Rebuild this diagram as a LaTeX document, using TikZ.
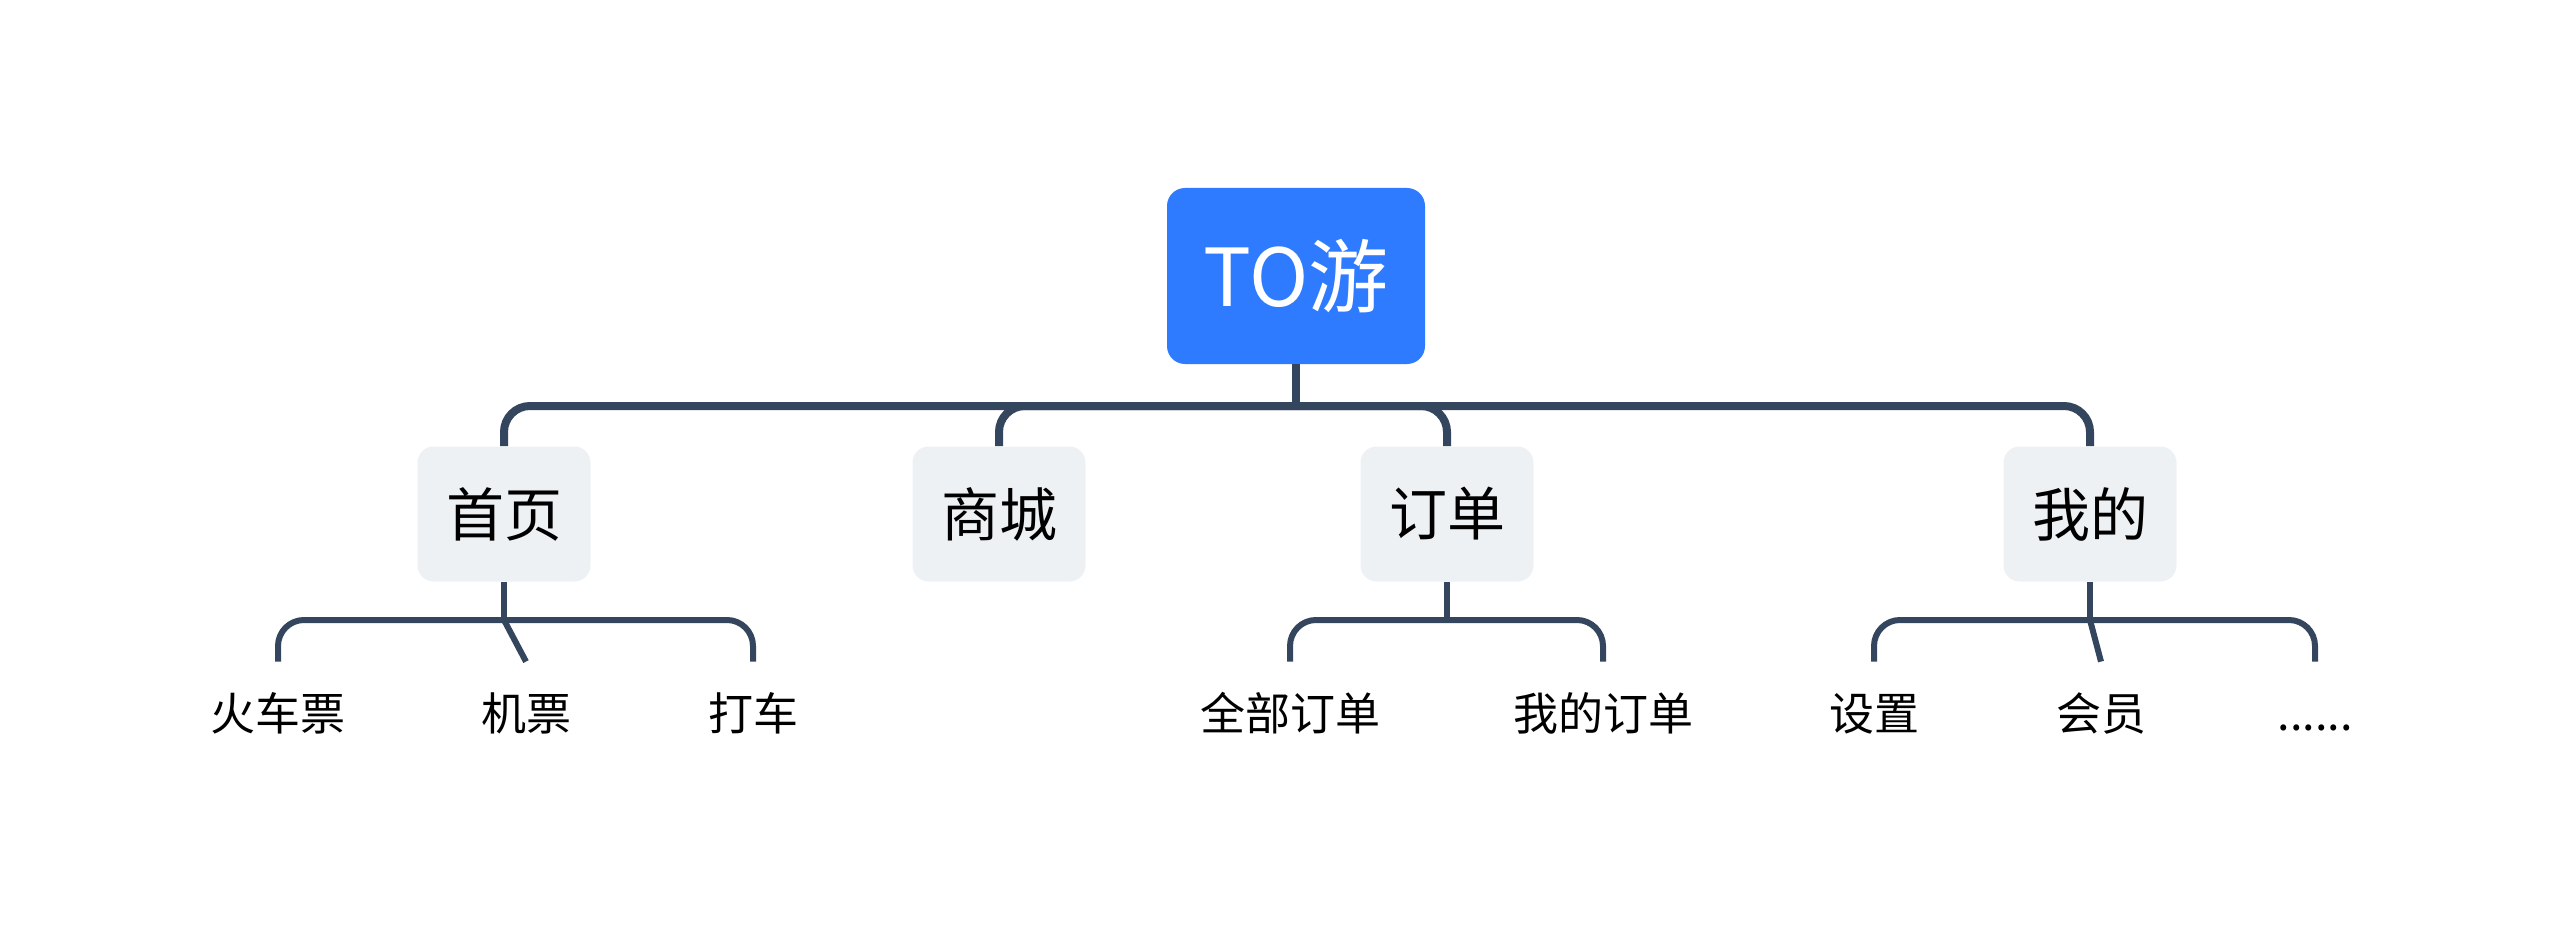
\documentclass[tikz,border=0pt]{standalone}
\usepackage{fontspec}
\setmainfont{Noto Sans CJK SC}
\definecolor{topblue}{HTML}{2F7BFF}
\definecolor{boxgray}{HTML}{EEF1F4}
\definecolor{linkgray}{HTML}{34465E}
\begin{document}
\begin{tikzpicture}[x=0.5pt,y=-0.5pt,
  topic/.style={rectangle,rounded corners=9pt,fill=topblue,text=white,
    minimum width=129pt,minimum height=88pt,font=\fontsize{40}{48}\selectfont},
  subtopic/.style={rectangle,rounded corners=8pt,fill=boxgray,
    minimum width=86.5pt,minimum height=67.5pt,font=\fontsize{29}{35}\selectfont},
  leaf/.style={rectangle,minimum height=51pt,text height=20pt,text depth=3pt,
    font=\fontsize{22.5}{27}\selectfont},
  bigline/.style={draw=linkgray,line width=4pt,rounded corners=13pt},
  smallline/.style={draw=linkgray,line width=3pt,rounded corners=13pt}]

  \useasboundingbox (0,0) rectangle (2560,952);

  \node (root) at (1296,276) [topic]{TO游};

  \node (home) at (504,514) [subtopic]{首页};
  \node (mall) at (999,514) [subtopic]{商城};
  \node (order) at (1447,514) [subtopic]{订单};
  \node (mine) at (2090,514) [subtopic]{我的};

  \node (train) at (278,713) [leaf]{火车票};
  \node (plane) at (526,713) [leaf]{机票};
  \node (taxi) at (753,713) [leaf]{打车};
  \node (allorder) at (1290,713) [leaf]{全部订单};
  \node (myorder) at (1603,713) [leaf]{我的订单};
  \node (setting) at (1874,713) [leaf]{设置};
  \node (vip) at (2101,713) [leaf]{会员};
  \node (more) at (2315,713) [leaf]{......};

  \coordinate (hub) at (1296,406);
  \coordinate (homehub) at (504,620);
  \coordinate (orderhub) at (1447,620);
  \coordinate (minehub) at (2090,620);

  \draw[bigline] (root.south) -- (hub);
  \foreach \n in {home,mall,order,mine}
    \draw[bigline] (hub) -| (\n.north);

  \draw[smallline] (home.south) -- (homehub);
  \draw[smallline] (homehub) -| (train.north);
  \draw[smallline] (homehub) -- (plane.north);
  \draw[smallline] (homehub) -| (taxi.north);

  \draw[smallline] (order.south) -- (orderhub);
  \draw[smallline] (orderhub) -| (allorder.north);
  \draw[smallline] (orderhub) -| (myorder.north);

  \draw[smallline] (mine.south) -- (minehub);
  \draw[smallline] (minehub) -| (setting.north);
  \draw[smallline] (minehub) -- (vip.north);
  \draw[smallline] (minehub) -| (more.north);

\end{tikzpicture}
\end{document}
